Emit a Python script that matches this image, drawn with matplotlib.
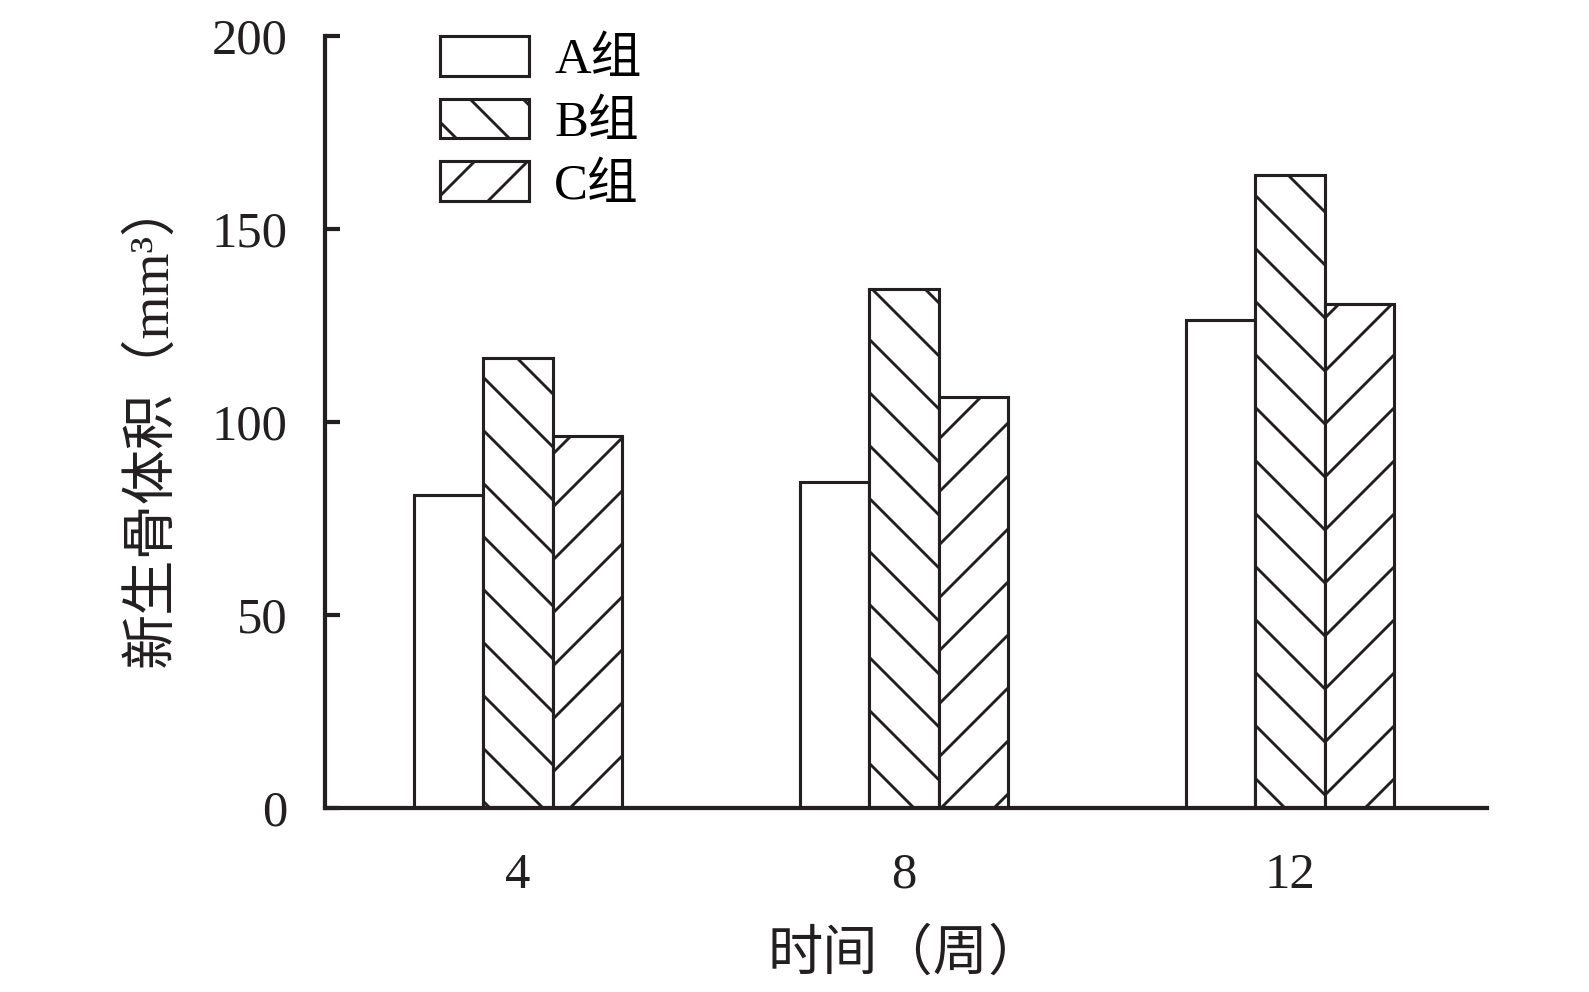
import numpy as np
import matplotlib.pyplot as plt

# new bone volume by week, three groups
weeks = ["4", "8", "12"]
group_names = ["A组", "B组", "C组"]
vol_a = [81, 84.5, 126.5]
vol_b = [116.5, 134.5, 164]
vol_c = [96.5, 106.5, 130.5]
hatches = ["", "\\\\", "//"]

plt.rcParams["font.family"] = ["Liberation Serif", "Noto Sans CJK SC"]
plt.rcParams["hatch.linewidth"] = 0.65
plt.rcParams["hatch.color"] = "#231f20"

DPI = 318
fig = plt.figure(figsize=(1589 / DPI, 992 / DPI), dpi=DPI)
ax = fig.add_axes([0.2045, 0.1855, 0.7313, 0.7782])

x = np.arange(len(weeks))
w = 0.18
for k, (vals, name, h) in enumerate(zip([vol_a, vol_b, vol_c], group_names, hatches)):
    ax.bar(x + (k - 1) * w, vals, width=w, facecolor="white", edgecolor="#231f20",
           linewidth=0.7, hatch=h, label=name)

ax.set_xlim(-0.5, 2.51)
ax.set_ylim(0, 200)
ax.set_yticks([0, 50, 100, 150, 200])
ax.set_xticks(x)
ax.set_xticklabels(weeks)

for s in ["top", "right"]:
    ax.spines[s].set_visible(False)
for s in ["left", "bottom"]:
    ax.spines[s].set_linewidth(0.95)
    ax.spines[s].set_color("#231f20")

ax.tick_params(axis="y", direction="in", length=3.5, width=0.95, pad=8.5,
               labelsize=11.5, colors="#231f20")
ax.tick_params(axis="x", length=0, pad=10, labelsize=11.5, colors="#231f20")

ax.set_xlabel("时间（周）", fontsize=12.5, labelpad=7, color="#231f20")
ax.set_ylabel("新生骨体积（mm³）", fontsize=12.5, labelpad=7.5, color="#231f20")

ax.legend(loc="upper left", bbox_to_anchor=(0.099, 1.0), frameon=False,
          fontsize=11.5, handlelength=1.75, handleheight=0.82,
          labelspacing=0.28, handletextpad=0.5, borderpad=0, borderaxespad=0)

fig.savefig("out.png", dpi=DPI)
